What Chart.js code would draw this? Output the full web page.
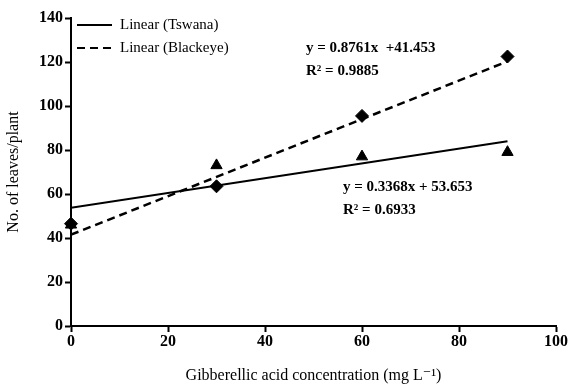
<!DOCTYPE html>
<html>
<head>
<meta charset="utf-8">
<script src="https://cdn.jsdelivr.net/npm/chart.js@4"></script>
<style>
  html, body { margin: 0; padding: 0; background: #fff; }
  #wrap { width: 573px; height: 389px; position: relative; }
</style>
</head>
<body>
<div id="wrap"><canvas id="myChart"></canvas></div>
<script>
const doses = [0, 30, 60, 90];
const tswana = [46, 73, 77, 79];
const blackeye = [46.5, 63.5, 95.5, 122.5];
// trend line end points (x = 0 and x = 90)
const trendX = [0, 90];
const tswanaTrend = [53.7, 84.0];
const blackeyeTrend = [41.5, 120.3];
const legendLabels = ['Linear (Tswana)', 'Linear (Blackeye)'];
const eqBlackeye = ['y = 0.8761x  +41.453', 'R² = 0.9885'];
const eqTswana = ['y = 0.3368x + 53.653', 'R² = 0.6933'];

const serif = '"Liberation Serif", "DejaVu Serif", serif';

const pts = (xs, ys) => xs.map((x, i) => ({ x: x, y: ys[i] }));

const notes = {
  id: 'notes',
  afterDraw(chart) {
    const c = chart.ctx;
    c.save();
    c.fillStyle = '#000';
    c.strokeStyle = '#000';
    c.textBaseline = 'middle';
    // legend
    c.font = '15px ' + serif;
    c.lineWidth = 2;
    c.beginPath(); c.moveTo(77, 25); c.lineTo(112, 25); c.stroke();
    c.setLineDash([8, 5]);
    c.beginPath(); c.moveTo(77, 48); c.lineTo(113, 48); c.stroke();
    c.setLineDash([]);
    c.fillText(legendLabels[0], 120, 25);
    c.fillText(legendLabels[1], 120, 48);
    // equations
    c.font = 'bold 15px ' + serif;
    c.fillText(eqBlackeye[0], 306, 48);
    c.fillText(eqBlackeye[1], 306, 71);
    c.fillText(eqTswana[0], 343, 187);
    c.fillText(eqTswana[1], 343, 210);
    c.restore();
  }
};

new Chart(document.getElementById('myChart'), {
  type: 'scatter',
  data: {
    datasets: [
      {
        label: 'Tswana',
        data: pts(doses, tswana),
        pointStyle: 'triangle',
        pointRadius: 6.5,
        backgroundColor: '#000',
        borderColor: '#000',
        showLine: false,
        clip: false,
        order: 2
      },
      {
        label: 'Blackeye',
        data: pts(doses, blackeye),
        pointStyle: 'rectRot',
        pointRadius: 6.5,
        backgroundColor: '#000',
        borderColor: '#000',
        showLine: false,
        clip: false,
        order: 1
      },
      {
        label: legendLabels[0],
        data: pts(trendX, tswanaTrend),
        showLine: true,
        borderColor: '#000',
        borderWidth: 2,
        pointRadius: 0,
        order: 3
      },
      {
        label: legendLabels[1],
        data: pts(trendX, blackeyeTrend),
        showLine: true,
        borderColor: '#000',
        borderWidth: 2.5,
        borderDash: [8, 5],
        pointRadius: 0,
        order: 4
      }
    ]
  },
  options: {
    responsive: true,
    maintainAspectRatio: false,
    animation: false,
    layout: { padding: { top: 18, right: 17, left: 0, bottom: 0 } },
    plugins: {
      legend: { display: false },
      tooltip: { enabled: false }
    },
    scales: {
      x: {
        type: 'linear',
        min: 0,
        max: 100,
        ticks: { stepSize: 20, color: '#000', font: { family: serif, size: 16, weight: 'bold' }, padding: 0 },
        grid: { drawOnChartArea: false, color: '#000', tickLength: 6, tickWidth: 2 },
        border: { color: '#000', width: 2 },
        title: {
          display: true,
          text: 'Gibberellic acid concentration (mg L⁻¹)',
          color: '#000',
          font: { family: serif, size: 16 },
          padding: { top: 14 }
        },
        afterFit: s => { s.height = 63; }
      },
      y: {
        min: 0,
        max: 140,
        ticks: { stepSize: 20, color: '#000', font: { family: serif, size: 16, weight: 'bold' }, padding: 2 },
        grid: { drawOnChartArea: false, color: '#000', tickLength: 6, tickWidth: 2 },
        border: { color: '#000', width: 2 },
        title: {
          display: true,
          text: 'No. of leaves/plant',
          color: '#000',
          font: { family: serif, size: 16 },
          padding: { bottom: 6 }
        },
        afterFit: s => { s.width = 71; }
      }
    }
  },
  plugins: [notes]
});
</script>
</body>
</html>
